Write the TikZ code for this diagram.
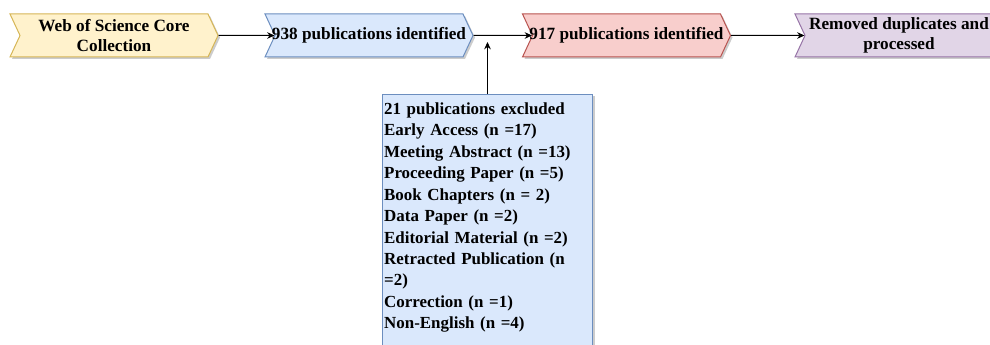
\documentclass[tikz,border=0pt]{standalone}
\usepackage{fontspec}
\setmainfont{Liberation Serif}
\usetikzlibrary{shapes.symbols,shadows,arrows.meta}

\definecolor{yellowFill}{RGB}{255,242,204}
\definecolor{yellowLine}{RGB}{214,182,86}
\definecolor{blueFill}{RGB}{218,232,252}
\definecolor{blueLine}{RGB}{108,142,191}
\definecolor{redFill}{RGB}{248,206,204}
\definecolor{redLine}{RGB}{184,84,80}
\definecolor{purpleFill}{RGB}{225,213,231}
\definecolor{purpleLine}{RGB}{150,115,166}

\tikzset{every picture/.style={line width=0.75pt}}
\tikzset{
  chevron/.style={shape=signal, signal to=east, signal from=west, signal pointer angle=130,
    minimum width=156pt, minimum height=32.25pt, inner xsep=-8pt, inner ysep=0pt, align=center,
    font=\bfseries\fontsize{12.9}{15}\selectfont,
    drop shadow={shadow xshift=1.5pt, shadow yshift=-1.5pt, fill=black, opacity=0.2}},
  flowline/.style={-{Stealth[length=5.5pt,width=5pt]}}
}

\begin{document}
\begin{tikzpicture}[x=0.75pt,y=0.75pt,yscale=-1,xscale=1]
\useasboundingbox (0,0) rectangle (990,345);
\clip (0,0) rectangle (990,345);

% Stage chevrons
\node [chevron, fill=yellowFill, draw=yellowLine] (wos) at (114,35.5) {Web of Science Core\\Collection};
\node [chevron, fill=blueFill, draw=blueLine] (found) at (369,35.5) {938 publications identified};
\node [chevron, fill=redFill, draw=redLine] (kept) at (626.5,35.5) {917 publications identified};
\node [chevron, fill=purpleFill, draw=purpleLine] (clean) at (899,35.5) {Removed duplicates and\\processed};

% Exclusion box
\node [anchor=north, fill=blueFill, draw=blueLine, text width=155pt, inner xsep=1.5pt, inner ysep=6pt, align=left,
  font=\bfseries\fontsize{12.7}{16.1}\selectfont,
  drop shadow={shadow xshift=1.5pt, shadow yshift=-1.5pt, fill=black, opacity=0.2}] (excl) at (487.5,94)
  {21 publications excluded\\
   Early Access (n =17)\\
   Meeting Abstract (n =13)\\
   Proceeding Paper (n =5)\\
   Book Chapters (n = 2)\\
   Data Paper (n =2)\\
   Editorial Material (n =2)\\
   Retracted Publication (n\\
   =2)\\
   Correction (n =1)\\
   Non-English (n =4)\\
   ~};
\coordinate (join) at (487.5,42);

% Connectors
\draw [flowline] (wos) -- (found);
\draw [flowline] (found) -- (kept);
\draw [flowline] (kept) -- (clean);
\draw [flowline] (excl) -- (join);

\end{tikzpicture}
\end{document}
